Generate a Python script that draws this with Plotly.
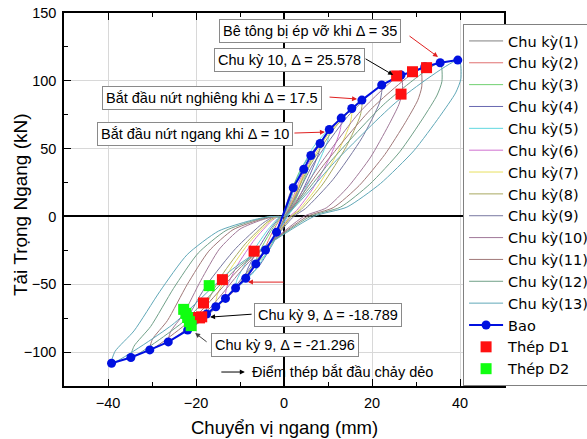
import plotly.graph_objects as go

# ---------------- data ----------------
c1_x = [0, 0.63, 1.37, 2.1, 2.04, 1.47, 0.74, 0.17, -0.51, -1.1, -1.7, -1.65, -1.19, -0.6, -0.14, 0]
c1_y = [0, 9.5, 17.0, 21.2, 18.7, 11.7, 4.2, 0, -5.2, -9.3, -11.6, -10.2, -6.4, -2.3, 0, 0]
c2_x = [0, 1.35, 2.93, 4.5, 4.37, 3.15, 1.58, 0.36, -1.26, -2.73, -4.2, -4.07, -2.94, -1.47, -0.34, 0]
c2_y = [0, 15.7, 27.8, 34.8, 30.6, 19.1, 7.0, 0, -11.1, -19.8, -24.7, -21.7, -13.6, -4.9, 0, 0]
c3_x = [0, 1.83, 3.97, 6.1, 5.92, 4.27, 2.14, 0.49, -1.92, -4.16, -6.4, -6.21, -4.48, -2.24, -0.51, 0]
c3_y = [0, 20.2, 35.9, 44.9, 39.5, 24.7, 9.0, 0, -15.8, -28.0, -35.0, -30.8, -19.3, -7.0, 0, 0]
c4_x = [0, 2.46, 5.33, 8.2, 7.95, 5.74, 2.87, 0.66, -2.61, -5.66, -8.7, -8.44, -6.09, -3.05, -0.7, 0]
c4_y = [0, 24.2, 43.0, 53.8, 47.3, 29.6, 10.8, 0, -20.5, -36.5, -45.6, -40.1, -25.1, -9.1, 0, 0]
c5_x = [0, 3.09, 6.7, 10.3, 9.99, 7.21, 3.61, 0.82, -3.3, -7.15, -11.0, -10.67, -7.7, -3.85, -0.88, 0]
c5_y = [0, 28.8, 51.3, 64.1, 56.4, 35.3, 12.8, 0, -23.8, -42.2, -52.8, -46.5, -29.0, -10.6, 0, 0]
c6_x = [0, 3.9, 8.45, 13.0, 12.74, 10.4, 6.5, 2.86, 1.3, -3.99, -8.65, -13.3, -13.03, -10.64, -6.65, -2.93, -1.33, 0]
c6_y = [0, 29.0, 55.1, 72.5, 63.1, 43.5, 20.3, 4.4, 0, -24.2, -45.9, -60.4, -52.5, -36.2, -16.9, -3.6, 0, 0]
c7_x = [0, 4.62, 10.01, 15.4, 15.09, 12.32, 7.7, 3.39, 1.54, -4.65, -10.08, -15.5, -15.19, -12.4, -7.75, -3.41, -1.55, 0]
c7_y = [0, 31.8, 60.5, 79.6, 69.3, 47.8, 22.3, 4.8, 0, -26.6, -50.6, -66.6, -57.9, -40.0, -18.6, -4.0, 0, 0]
c8_x = [0, 5.31, 11.5, 17.7, 17.35, 14.16, 8.85, 3.89, 1.77, -5.28, -11.44, -17.6, -17.25, -14.08, -8.8, -3.87, -1.76, 0]
c8_y = [0, 34.3, 65.2, 85.8, 74.6, 51.5, 24.0, 5.1, 0, -28.8, -54.7, -72.0, -62.6, -43.2, -20.2, -4.3, 0, 0]
c9_x = [0, 6.66, 14.43, 22.2, 21.76, 17.76, 11.1, 4.88, 2.22, -6.57, -14.24, -21.9, -21.46, -17.52, -10.95, -4.82, -2.19, 0]
c9_y = [0, 38.8, 73.6, 96.9, 84.3, 58.1, 27.1, 5.8, 0, -33.5, -63.7, -83.8, -72.9, -50.3, -23.5, -5.0, 0, 0]
c10_x = [0, 7.98, 17.29, 26.6, 26.9, 26.1, 23.7, 19.7, 14.6, 9.6, 4.5, -7.89, -17.1, -26.3, -25.8, -22.9, -18.9, -14.7, -10.0, -5.3, -2.1, 0]
c10_y = [0, 37.5, 77.2, 104.3, 91.8, 82.4, 66.8, 43.8, 21.9, 6.3, 0, -33.3, -68.5, -92.5, -85.1, -72.2, -47.2, -24.1, -9.3, -2.8, 0, 0]
c11_x = [0, 9.3, 20.15, 31.0, 31.3, 30.4, 27.6, 22.9, 17.1, 11.2, 5.3, -9.15, -19.83, -30.5, -29.9, -26.5, -22.0, -17.1, -11.6, -6.1, -2.4, 0]
c11_y = [0, 39.1, 80.3, 108.5, 95.5, 85.7, 69.4, 45.6, 22.8, 6.5, 0, -35.4, -72.8, -98.4, -90.5, -76.8, -50.2, -25.6, -9.8, -3.0, 0, 0]
c12_x = [0, 10.65, 23.08, 35.5, 35.9, 34.8, 31.6, 26.3, 19.5, 12.8, 6.0, -10.44, -22.62, -34.8, -34.1, -30.3, -25.1, -19.5, -13.2, -7.0, -2.8, 0]
c12_y = [0, 40.8, 83.8, 113.3, 99.7, 89.5, 72.5, 47.6, 23.8, 6.8, 0, -37.4, -77.0, -104.0, -95.7, -81.1, -53.0, -27.0, -10.4, -3.1, 0, 0]
c13_x = [0, 11.94, 25.87, 39.8, 40.2, 39.0, 35.4, 29.5, 21.9, 14.3, 6.8, -11.76, -25.48, -39.2, -38.4, -34.1, -28.2, -22.0, -14.9, -7.8, -3.1, 0]
c13_y = [0, 41.5, 85.3, 115.3, 101.5, 91.1, 73.8, 48.4, 24.2, 6.9, 0, -39.0, -80.1, -108.2, -99.5, -84.4, -55.2, -28.1, -10.8, -3.2, 0, 0]

cycle_names = ["Chu kỳ(1)", "Chu kỳ(2)", "Chu kỳ(3)", "Chu kỳ(4)", "Chu kỳ(5)", "Chu kỳ(6)",
               "Chu kỳ(7)", "Chu kỳ(8)", "Chu kỳ(9)", "Chu kỳ(10)", "Chu kỳ(11)", "Chu kỳ(12)",
               "Chu kỳ(13)"]

bao_x = [-39.2, -34.8, -30.5, -26.3, -21.9, -17.6, -15.5, -13.3, -11.0, -8.7, -6.4, -4.2, -1.7,
         2.1, 4.5, 6.1, 8.2, 10.3, 13.0, 15.4, 17.7, 22.2, 26.6, 29.4, 32.0, 35.5, 39.5]
bao_y = [-108.2, -104.0, -98.4, -92.5, -83.8, -72.0, -66.6, -60.4, -52.8, -45.6, -35.0, -24.7, -11.6,
         21.2, 34.8, 44.9, 53.8, 64.1, 72.5, 79.6, 85.8, 96.9, 104.3, 106.7, 110.4, 113.3, 115.3]

d1_x = [25.6, 29.2, 32.4, 26.6, -6.8, -14.0, -18.3, -19.8, -18.7, -19.2]
d1_y = [103.6, 106.7, 109.7, 90.2, -25.6, -46.6, -63.8, -74.5, -74.0, -74.8]
d2_x = [-17.0, -22.8, -22.3, -21.9, -21.5, -21.1]
d2_y = [-51.0, -68.5, -71.5, -74.5, -77.5, -80.5]

cycle_colors = ['#808080', '#e07070', '#70d070', '#6868b0', '#60d8e0', '#d070d0', '#e8e060',
                '#a8a860', '#7878a0', '#a07898', '#a07878', '#70a088', '#60a8b8']

cycles_x = [c1_x, c2_x, c3_x, c4_x, c5_x, c6_x, c7_x, c8_x, c9_x, c10_x, c11_x, c12_x, c13_x]
cycles_y = [c1_y, c2_y, c3_y, c4_y, c5_y, c6_y, c7_y, c8_y, c9_y, c10_y, c11_y, c12_y, c13_y]

FONT = "Liberation Sans, Arial, sans-serif"
LEG_FONT = "DejaVu Sans, sans-serif"

fig = go.Figure()
for xs, ys, nm, col in zip(cycles_x, cycles_y, cycle_names, cycle_colors):
    fig.add_trace(go.Scatter(x=xs, y=ys, name=nm, mode="lines",
                             line=dict(color=col, width=1, shape="spline", smoothing=0.6)))

fig.add_trace(go.Scatter(x=bao_x, y=bao_y, name="Bao", mode="lines+markers",
                         line=dict(color="#0010e0", width=2),
                         marker=dict(color="#0010e0", size=9, symbol="circle")))
fig.add_trace(go.Scatter(x=d1_x, y=d1_y, name="Thép D1", mode="markers",
                         marker=dict(color="#ff1010", size=11, symbol="square")))
fig.add_trace(go.Scatter(x=d2_x, y=d2_y, name="Thép D2", mode="markers",
                         marker=dict(color="#10ff10", size=11, symbol="square")))

box = dict(bordercolor="#8a8a8a", borderwidth=1, bgcolor="white", borderpad=3,
           font=dict(family=FONT, size=14.5, color="black"), showarrow=False, xref="x", yref="y")
boxes = [
    ("Bê tông bị ép vỡ khi Δ = 35", 5.9, 136.7),
    ("Chu kỳ 10, Δ = 25.578", 1.25, 115.7),
    ("Bắt đầu nứt nghiêng khi Δ = 17.5", -16.4, 87.7),
    ("Bắt đầu nứt ngang khi Δ = 10", -20.2, 61.1),
    ("Chu kỳ 9, Δ = -18.789", 9.9, -72.3),
    ("Chu kỳ 9, Δ = -21.296", 0.3, -94.8),
]
annotations = []
for t, x, y in boxes:
    annotations.append(dict(text=t, x=x, y=y, **box))

arrows = [
    (35.0, 117.6, -30, -22, "#e02020"),
    (24.8, 104.3, -29, -17, "black"),
    (16.6, 86.6, -29, -2, "#e02020"),
    (9.3, 62.2, -32, 1, "#e02020"),
    (-16.8, -74.2, 43, -3, "black"),
    (-20.2, -85.9, 13, 10, "#404040"),
    (-8.9, -114.7, -25, 0, "black"),
    (-8.2, -48.4, 37, 0, "#e02020"),
]
for x, y, ax, ay, col in arrows:
    annotations.append(dict(text="", x=x, y=y, ax=ax, ay=ay, xref="x", yref="y",
                            showarrow=True, arrowhead=2, arrowsize=1, arrowwidth=1,
                            arrowcolor=col, standoff=0, startstandoff=0))

annotations.append(dict(text="Điểm thép bắt đầu chảy dẻo", x=-7.7, y=-114.7, xref="x", yref="y",
                        xanchor="left", yanchor="middle", showarrow=False,
                        font=dict(family=FONT, size=14.5, color="black")))
annotations.append(dict(text="Chuyển vị ngang (mm)", x=0.502, y=-0.1126, xref="paper", yref="paper",
                        xanchor="center", yanchor="middle", showarrow=False,
                        font=dict(family=FONT, size=18.5, color="black")))
annotations.append(dict(text="Tải Trọng Ngang (kN)", x=-0.1, y=0.485, xref="paper", yref="paper",
                        xanchor="center", yanchor="middle", showarrow=False, textangle=-90,
                        font=dict(family=FONT, size=19, color="black")))

axis_common = dict(showline=True, linecolor="black", linewidth=1.5, mirror="ticks",
                   ticks="inside", ticklen=7, tickcolor="black", tickwidth=1,
                   showgrid=True, gridcolor="#d8d8d8", gridwidth=1,
                   zeroline=True, zerolinecolor="black", zerolinewidth=1.5,
                   ticklabelstandoff=3,
                   tickfont=dict(family=FONT, size=14.5, color="black"))

fig.update_layout(
    width=587, height=439,
    margin=dict(l=64, r=83, t=13, b=53, autoexpand=False),
    paper_bgcolor="white", plot_bgcolor="white",
    showlegend=True,
    legend=dict(x=0.907, y=0.9705, xanchor="left", yanchor="top",
                bgcolor="white", bordercolor="#808080", borderwidth=1, itemwidth=34,
                font=dict(family=LEG_FONT, size=14.5, color="black"), tracegroupgap=0),
    xaxis=dict(range=[-50, 50], tickvals=[-40, -20, 0, 20, 40],
               minor=dict(dtick=10, ticks="inside", ticklen=4, tickcolor="black", showgrid=False),
               **axis_common),
    yaxis=dict(range=[-125, 150], tickvals=[-100, -50, 0, 50, 100, 150],
               minor=dict(dtick=25, ticks="inside", ticklen=4, tickcolor="black", showgrid=False),
               **axis_common),
    annotations=annotations,
)

fig.write_html("out.html", config={"displayModeBar": False})
